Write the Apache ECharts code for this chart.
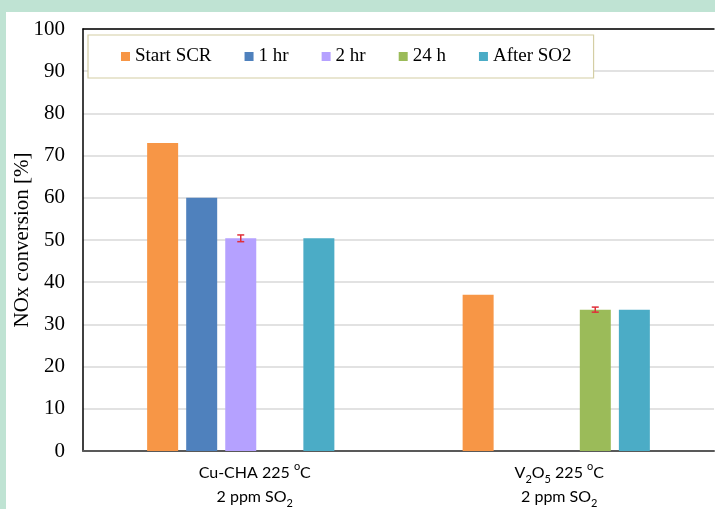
<!DOCTYPE html>
<html><head><meta charset="utf-8">
<script src="https://cdn.jsdelivr.net/npm/echarts@6/dist/echarts.min.js"></script>
<style>
html,body{margin:0;padding:0;width:715px;height:509px;background:#bfe3d3;overflow:hidden;}
#bg{position:absolute;left:6px;top:12px;width:709px;height:497px;background:#fff;}
#chart{position:absolute;left:0;top:0;width:715px;height:509px;}
</style></head>
<body><div id="bg"></div><div id="chart"></div>
<script>
const categories = ['Cu-CHA 225 \u00BAC\n2 ppm SO\u2082', 'V\u2082O\u2085 225 \u00BAC\n2 ppm SO\u2082'];
const seriesNames = ['Start SCR', '1 hr', '2 hr', '24 h', 'After SO2'];
const startSCR = [73, 37];
const hr1 = [60, null];
const hr2 = [50.4, null];
const h24 = [null, 33.5];
const afterSO2 = [50.4, 33.5];
// error bars: [category index, series index, value, +/- error]
const errorBars = [[0, 2, 50.4, 0.8], [1, 3, 33.5, 0.6]];
const yTicks = [0, 10, 20, 30, 40, 50, 60, 70, 80, 90, 100];

const colors = ['#f79646', '#4f81bd', '#b5a1ff', '#9bbb59', '#4bacc6'];
const values = [startSCR, hr1, hr2, h24, afterSO2];
const BW = 31, STEP = 39;

function richLabel(v) {
  return v.replace(/[\u2080-\u2089]/g, ch => '{s|' + String.fromCharCode(ch.charCodeAt(0) - 0x2080 + 48) + '}')
          .replace(/\u00BA/g, '{o|o}');
}

const chart = echarts.init(document.getElementById('chart'));
const series = seriesNames.map((n, i) => ({
  name: n, type: 'bar', data: values[i], barWidth: BW, barGap: '26%',
  itemStyle: {color: colors[i]}, z: 2
}));
series.push({
  type: 'custom', name: 'err', z: 5,
  data: errorBars.map(e => [e[0], e[2] - e[3], e[2] + e[3], e[1]]),
  renderItem: function (params, api) {
    const c = api.coord([api.value(0), api.value(1)]);
    const h = api.coord([api.value(0), api.value(2)]);
    const x = c[0] + (api.value(3) - 2) * STEP;
    const st = {stroke: '#e0303a', lineWidth: 1.5};
    return {type: 'group', children: [
      {type: 'line', shape: {x1: x, y1: c[1], x2: x, y2: h[1]}, style: st},
      {type: 'line', shape: {x1: x - 3.5, y1: c[1], x2: x + 3.5, y2: c[1]}, style: st},
      {type: 'line', shape: {x1: x - 3.5, y1: h[1], x2: x + 3.5, y2: h[1]}, style: st}
    ]};
  }
});

chart.setOption({
  animation: false,
  grid: {left: 83, top: 29, right: 1, bottom: 58, containLabel: false, outerBoundsMode: 'none'},
  legend: {
    data: seriesNames, left: 88, top: 35, orient: 'horizontal',
    itemWidth: 9, itemHeight: 9, itemGap: 33, icon: 'rect',
    padding: [12, 22, 12, 33], backgroundColor: '#fff',
    borderColor: '#d4cea4', borderWidth: 1.2,
    textStyle: {fontFamily: 'Liberation Serif', fontSize: 19, color: '#000'}
  },
  xAxis: [{
    type: 'category', data: categories.map((c, i) => ({value: c, textStyle: {padding: i === 0 ? [0, 0, 0, 28] : [0, 0, 0, 6]}})),
    axisLine: {lineStyle: {color: '#595959', width: 2}},
    axisTick: {show: false},
    axisLabel: {
      fontFamily: 'Lato', fontSize: 16, color: '#000', lineHeight: 24, margin: 10,
      formatter: richLabel,
      rich: {
        s: {fontFamily: 'Lato', fontSize: 11, color: '#000', lineHeight: 18, verticalAlign: 'bottom'},
        o: {fontFamily: 'Lato', fontSize: 11, color: '#000', lineHeight: 14, verticalAlign: 'top'}
      }
    }
  }, {
    type: 'category', position: 'top', data: categories,
    axisLine: {show: true, lineStyle: {color: '#000', width: 1.5}},
    axisTick: {show: false}, axisLabel: {show: false}
  }],
  yAxis: {
    type: 'value', min: yTicks[0], max: yTicks[yTicks.length - 1], interval: 10,
    name: 'NOx conversion [%]', nameLocation: 'middle', nameGap: 50, nameRotate: 90,
    nameMoveOverlap: false,
    nameTextStyle: {fontFamily: 'Liberation Serif', fontSize: 21, color: '#000'},
    axisLine: {show: true, lineStyle: {color: '#000', width: 1.5}},
    axisTick: {show: false},
    axisLabel: {fontFamily: 'Liberation Serif', fontSize: 21, color: '#000', margin: 18},
    splitLine: {lineStyle: {color: '#d9d9d9', width: 1.5}}
  },
  series: series
});
</script></body></html>
